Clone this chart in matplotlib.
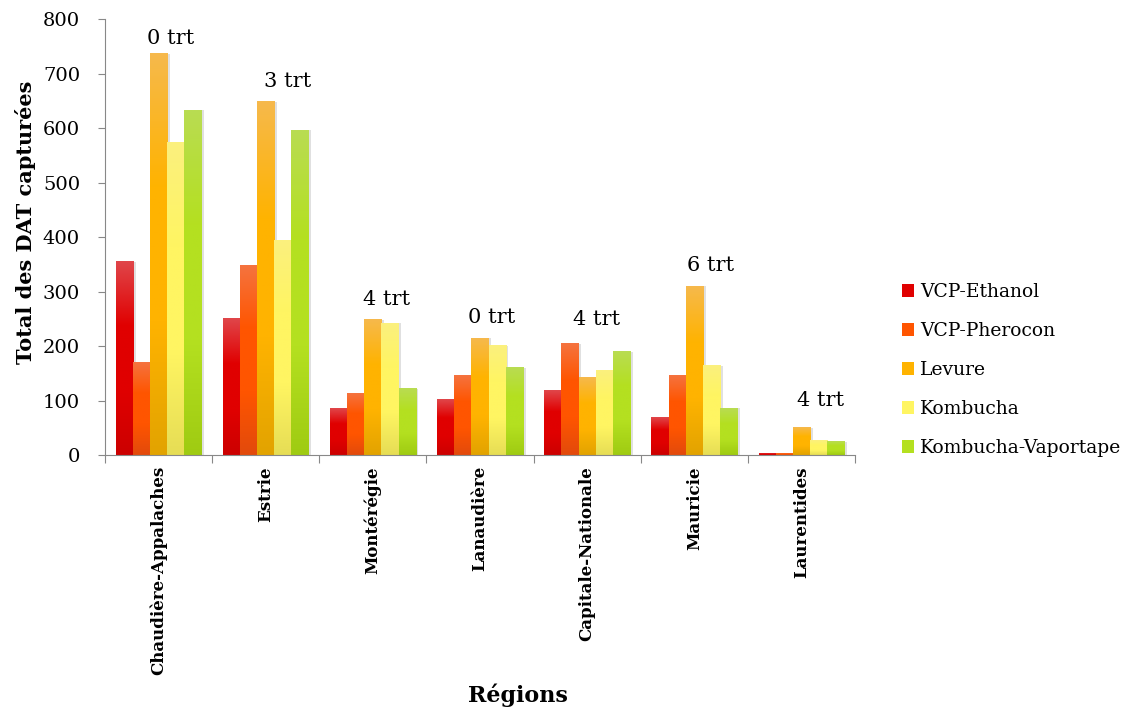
import numpy as np
import matplotlib.pyplot as plt
from matplotlib.colors import LinearSegmentedColormap
from matplotlib.patches import Rectangle

plt.rcParams['font.family'] = ['DejaVu Serif']

regions = ["Chaudière-Appalaches", "Estrie", "Montérégie", "Lanaudière",
           "Capitale-Nationale", "Mauricie", "Laurentides"]
series = ["VCP-Ethanol", "VCP-Pherocon", "Levure", "Kombucha", "Kombucha-Vaportape"]

vcp_ethanol = [355, 251, 86, 102, 118, 68, 3]
vcp_pherocon = [169, 347, 112, 146, 204, 146, 2]
levure = [737, 648, 248, 214, 142, 310, 50]
kombucha = [574, 393, 242, 201, 156, 164, 26]
kombucha_vapor = [633, 596, 122, 160, 190, 86, 24]
values = [vcp_ethanol, vcp_pherocon, levure, kombucha, kombucha_vapor]

trt_labels = ["0 trt", "3 trt", "4 trt", "0 trt", "4 trt", "6 trt", "4 trt"]
trt_y = [765, 686, 286, 253, 248, 347, 101]
trt_dx = [0.11, 0.20, 0.13, 0.11, 0.09, 0.15, 0.18]

# top / middle / bottom shades of each series gradient
shades = [
    ("#e0464a", "#e00000", "#cc0000"),
    ("#f5733f", "#ff5500", "#e24a0c"),
    ("#f6b94c", "#ffb300", "#e2a300"),
    ("#fbf07e", "#fff562", "#e6dd55"),
    ("#b9dc52", "#b4e020", "#9fcb12"),
]

fig = plt.figure(figsize=(11.33, 7.11), dpi=100)
ax = fig.add_axes([0.0927, 0.36, 0.662, 0.613])

n = len(series)
bw = 0.16
x = np.arange(len(regions))
for i, (vals, sh) in enumerate(zip(values, shades)):
    cmap = LinearSegmentedColormap.from_list("g%d" % i, [sh[2], sh[1], sh[1], sh[0]])
    grad = np.linspace(0, 1, 256).reshape(-1, 1)
    xs = x + (i - (n - 1) / 2) * bw
    for xc, v in zip(xs, vals):
        # soft shadow on the right side
        ax.add_patch(Rectangle((xc - bw / 2 + 0.025, 0), bw, v, facecolor="#000000",
                               alpha=0.12, edgecolor="none", zorder=1))
        ax.imshow(grad, cmap=cmap, origin="lower", aspect="auto",
                  extent=(xc - bw / 2, xc + bw / 2, 0, v), zorder=2)
    ax.bar(xs, vals, bw, color=sh[1], alpha=0, label=series[i])

for xi, lab, ty, dx in zip(x, trt_labels, trt_y, trt_dx):
    ax.text(xi + dx, ty, lab, ha="center", va="center", fontsize=15)

ax.set_xlim(-0.5, len(regions) - 0.5)
ax.set_ylim(0, 800)
ax.set_yticks(range(0, 801, 100))
ax.tick_params(axis="y", labelsize=14, length=5, pad=13, color="#888888")
ax.set_xticks(np.arange(-0.5, len(regions), 1), minor=False)
ax.set_xticklabels([])
ax.tick_params(axis="x", length=6, color="#888888")
ax.set_xticks(x, minor=True)
ax.set_xticklabels(regions, minor=True, rotation=90, fontsize=12,
                   fontweight="bold", va="top")
ax.tick_params(axis="x", which="minor", length=0, pad=8)

for s in ["top", "right"]:
    ax.spines[s].set_visible(False)
for s in ["left", "bottom"]:
    ax.spines[s].set_color("#888888")

ax.set_ylabel("Total des DAT capturées", fontsize=15, fontweight="bold")
ax.yaxis.set_label_coords(-0.092, 0.535)
fig.text(0.457, 0.012, "Régions", fontsize=16, fontweight="bold", ha="center")

handles = [Rectangle((0, 0), 1, 1, facecolor=sh[1]) for sh in shades]
ax.legend(handles, series, loc="center left", bbox_to_anchor=(1.04, 0.195),
          frameon=False, fontsize=13.5, handlelength=0.65, handleheight=0.65,
          handletextpad=0.3, labelspacing=1.12)

fig.savefig("out.png", dpi=100)
